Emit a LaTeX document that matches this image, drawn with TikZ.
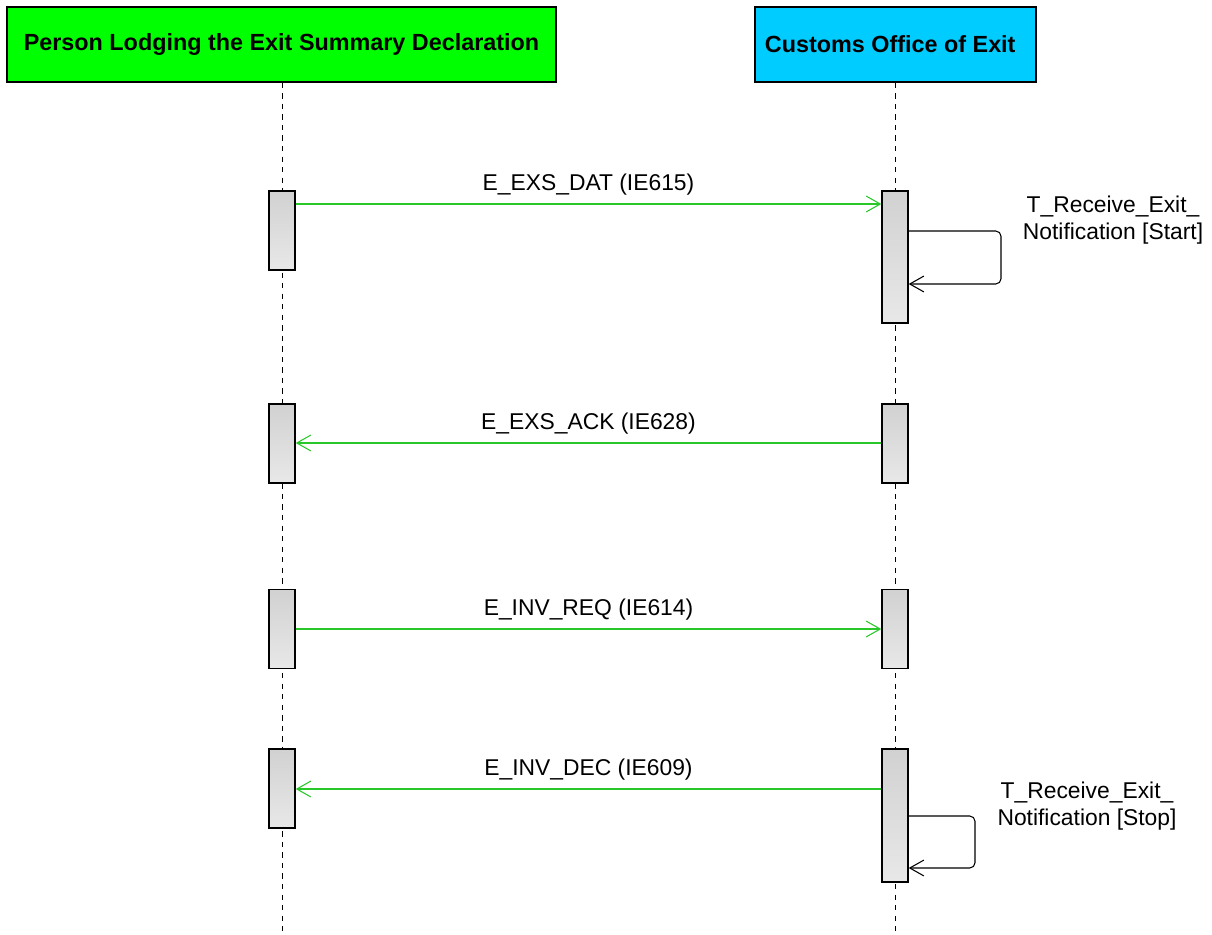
\documentclass[tikz,border=0pt]{standalone}
\usepackage{fontspec}
\setmainfont{Liberation Sans}
\usetikzlibrary{arrows.meta}

\definecolor{actorgreen}{RGB}{0,255,0}
\definecolor{actorcyan}{RGB}{0,204,255}
\definecolor{msggreen}{RGB}{40,200,40}

\begin{document}
\begin{tikzpicture}[
    x=0.02cm, y=-0.02cm,
    header/.style={
        draw,
        line width=0.9pt,
        minimum height=1.5cm,
        font=\fontsize{13.3}{16}\selectfont\bfseries
    },
    bar/.style={
        draw,
        line width=0.8pt,
        inner sep=0pt,
        minimum width=0.52cm,
        top color=black!18,
        bottom color=black!9
    },
    lifeline/.style={dashed, line width=0.5pt},
    msg/.style={-{Straight Barb[length=8pt,width=9pt]}, msggreen, line width=0.6pt},
    self/.style={-{Straight Barb[length=8pt,width=9pt]}, line width=0.6pt, rounded corners=3pt},
    lbl/.style={font=\fontsize{13}{15.6}\selectfont, inner sep=2pt},
    note/.style={font=\fontsize{13}{15.4}\selectfont, align=center}
]
\useasboundingbox (0,0) rectangle (1212,935);

%==========================
% Lifelines
%==========================
\node[header, fill=actorgreen, minimum width=10.98cm] (person) at (281.5,44.5)
{Person Lodging the Exit Summary Declaration};
\node[header, fill=actorcyan, minimum width=5.62cm] (office) at (895.5,44.5)
{Customs Office of Exit\hspace*{6pt}};

\coordinate (bottom) at (0,935);
\draw[lifeline] (person.south -| 282,0) -- (bottom -| 282,0);
\draw[lifeline] (office.south -| 895,0) -- (bottom -| 895,0);

%==========================
% Activations
%==========================
\node[bar, minimum height=1.58cm] (l1) at (282,230.5) {};
\node[bar, minimum height=2.64cm] (r1) at (895,257) {};
\node[bar, minimum height=1.58cm] (l2) at (282,443.5) {};
\node[bar, minimum height=1.58cm] (r2) at (895,443.5) {};
\node[bar, minimum height=1.58cm] (l3) at (282,629) {};
\node[bar, minimum height=1.58cm] (r3) at (895,629) {};
\node[bar, minimum height=1.58cm] (l4) at (282,788.5) {};
\node[bar, minimum height=2.66cm] (r4) at (895,815.5) {};

%==========================
% Messages
%==========================
\coordinate (m1) at (0,204);
\coordinate (m2) at (0,443);
\coordinate (m3) at (0,629);
\coordinate (m4) at (0,789);

\draw[msg] (l1.east |- m1) -- (r1.west |- m1)
    node[lbl, midway, above=2.5pt, text=black] (t1) {E\_EXS\_DAT (IE615)};
\draw[msg] (r2.west |- m2) -- (l2.east |- m2)
    node[lbl, midway, above=2.5pt, text=black] (t2) {E\_EXS\_ACK (IE628)};
\draw[msg] (l3.east |- m3) -- (r3.west |- m3)
    node[lbl, midway, above=2.5pt, text=black] (t3) {E\_INV\_REQ (IE614)};
\draw[msg] (r4.west |- m4) -- (l4.east |- m4)
    node[lbl, midway, above=2.5pt, text=black] (t4) {E\_INV\_DEC (IE609)};

%==========================
% Self messages
%==========================
\coordinate (s1a) at (1001,231);
\coordinate (s1b) at (1001,284);
\draw[self] (r1.east |- s1a) -- (s1a) -- (s1b) -- (r1.east |- s1b);
\node[note] (n1) at (1113,220) {T\_Receive\_Exit\_\\Notification [Start]};

\coordinate (s2a) at (975,816);
\coordinate (s2b) at (975,868);
\draw[self] (r4.east |- s2a) -- (s2a) -- (s2b) -- (r4.east |- s2b);
\node[note] (n2) at (1087,806) {T\_Receive\_Exit\_\\Notification [Stop]};

\end{tikzpicture}
\end{document}
